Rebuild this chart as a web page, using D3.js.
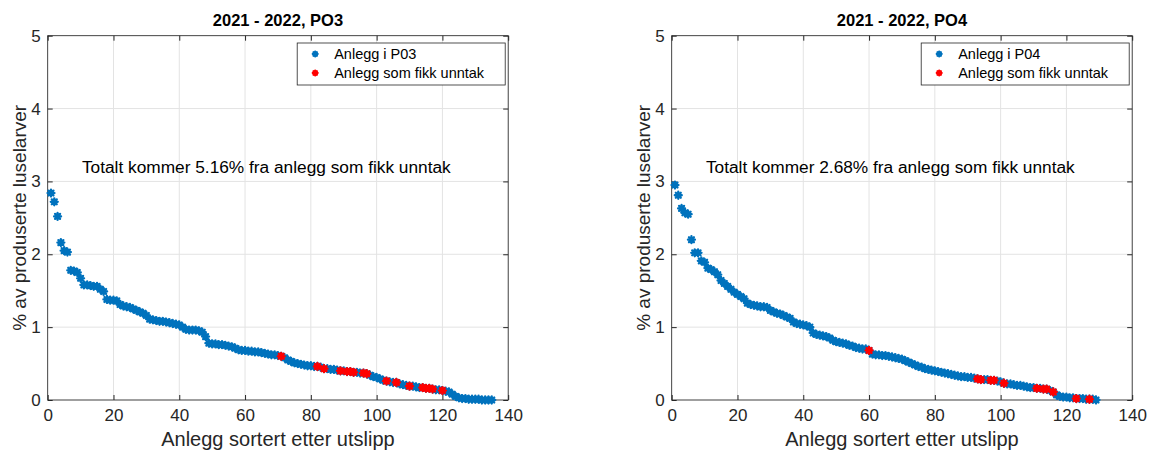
<!DOCTYPE html>
<html>
<head>
<meta charset="utf-8">
<script src="https://cdn.jsdelivr.net/npm/d3@7"></script>
<style>
  body { margin: 0; background: #fff; }
  text { font-family: "Liberation Sans", Arial, Helvetica, sans-serif; }
</style>
</head>
<body>
<div id="chart"></div>
<script>
// values, sorted high to low (% of produced lice larvae)
var po3Values = [
  2.84, 2.72, 2.52, 2.16, 2.05, 2.03, 1.78, 1.77, 1.75, 1.67,
  1.58, 1.58, 1.57, 1.56, 1.56, 1.52, 1.49, 1.38, 1.37, 1.37,
  1.36, 1.31, 1.29, 1.28, 1.27, 1.25, 1.23, 1.21, 1.19, 1.16,
  1.11, 1.10, 1.09, 1.08, 1.08, 1.07, 1.06, 1.05, 1.04, 1.03,
  1.00, 0.97, 0.96, 0.96, 0.96, 0.95, 0.93, 0.87, 0.78, 0.77,
  0.77, 0.76, 0.76, 0.75, 0.74, 0.73, 0.71, 0.69, 0.68, 0.68,
  0.67, 0.67, 0.66, 0.66, 0.65, 0.64, 0.63, 0.62, 0.62, 0.61,
  0.60, 0.58, 0.55, 0.53, 0.51, 0.50, 0.49, 0.48, 0.47, 0.47,
  0.46, 0.46, 0.45, 0.43, 0.43, 0.42, 0.42, 0.41, 0.40, 0.40,
  0.39, 0.39, 0.38, 0.38, 0.37, 0.37, 0.36, 0.34, 0.32, 0.31,
  0.29, 0.27, 0.26, 0.25, 0.24, 0.24, 0.22, 0.21, 0.20, 0.19,
  0.19, 0.18, 0.17, 0.17, 0.16, 0.16, 0.15, 0.14, 0.14, 0.13,
  0.12, 0.11, 0.08, 0.05, 0.03, 0.02, 0.02, 0.01, 0.01, 0.01,
  0.01, 0.00, 0.00, 0.00, 0.00
];
// rank (1-based) of the sites that got an exemption
var po3Exempt = [71, 82, 84, 89, 91, 92, 93, 96, 97, 103, 106, 110, 114, 115, 116, 117, 120];

var po4Values = [
  2.95, 2.81, 2.63, 2.57, 2.55, 2.20, 2.02, 2.02, 1.91, 1.89,
  1.81, 1.79, 1.76, 1.72, 1.64, 1.60, 1.56, 1.52, 1.48, 1.45,
  1.42, 1.39, 1.33, 1.31, 1.30, 1.29, 1.28, 1.28, 1.27, 1.23,
  1.21, 1.19, 1.18, 1.16, 1.14, 1.12, 1.07, 1.05, 1.04, 1.03,
  1.02, 1.00, 0.92, 0.90, 0.89, 0.88, 0.87, 0.85, 0.82, 0.80,
  0.79, 0.78, 0.77, 0.75, 0.74, 0.72, 0.71, 0.70, 0.70, 0.68,
  0.63, 0.62, 0.62, 0.61, 0.61, 0.60, 0.59, 0.58, 0.57, 0.56,
  0.54, 0.52, 0.50, 0.48, 0.46, 0.45, 0.43, 0.42, 0.41, 0.40,
  0.39, 0.38, 0.37, 0.36, 0.35, 0.34, 0.33, 0.32, 0.32, 0.31,
  0.31, 0.30, 0.29, 0.28, 0.28, 0.28, 0.27, 0.27, 0.26, 0.25,
  0.23, 0.22, 0.22, 0.21, 0.20, 0.20, 0.19, 0.18, 0.17, 0.17,
  0.16, 0.16, 0.15, 0.15, 0.13, 0.11, 0.07, 0.05, 0.04, 0.04,
  0.03, 0.03, 0.02, 0.02, 0.02, 0.01, 0.01, 0.01, 0.00
];
var po4Exempt = [60, 93, 94, 97, 98, 101, 111, 113, 114, 116, 123, 127];

var xTicks = [0, 20, 40, 60, 80, 100, 120, 140];
var yTicks = [0, 1, 2, 3, 4, 5];

var blue = "#0072BD";
var red = "#FF0000";
var axisColor = "#262626";

var svg = d3.select("#chart")
  .append("svg")
  .attr("width", 1149)
  .attr("height", 450);

// MATLAB '*' marker: plus and times drawn together
function star(g, cx, cy, r, color) {
  var d = r * 0.7071;
  var p = "M" + (cx - r) + "," + cy + "H" + (cx + r) +
    "M" + cx + "," + (cy - r) + "V" + (cy + r) +
    "M" + (cx - d) + "," + (cy - d) + "L" + (cx + d) + "," + (cy + d) +
    "M" + (cx - d) + "," + (cy + d) + "L" + (cx + d) + "," + (cy - d);
  g.append("path")
    .attr("d", p)
    .attr("stroke", color)
    .attr("stroke-width", 2.3)
    .attr("stroke-linecap", "round")
    .attr("fill", "none");
}

function drawPanel(opts) {
  var left = opts.left, right = opts.left + 460.5, top = 35.7, bottom = 400;
  var x = d3.scaleLinear().domain([0, 140]).range([left, right]);
  var y = d3.scaleLinear().domain([0, 5]).range([bottom, top]);
  var g = svg.append("g");

  // grid
  g.append("g").selectAll("line.gx")
    .data(xTicks).enter().append("line")
    .attr("x1", function (d) { return x(d); })
    .attr("x2", function (d) { return x(d); })
    .attr("y1", top).attr("y2", bottom)
    .attr("stroke", "#e3e3e3").attr("stroke-width", 1);
  g.append("g").selectAll("line.gy")
    .data(yTicks).enter().append("line")
    .attr("x1", left).attr("x2", right)
    .attr("y1", function (d) { return y(d); })
    .attr("y2", function (d) { return y(d); })
    .attr("stroke", "#e3e3e3").attr("stroke-width", 1);

  // axes (ticks pointing inward)
  var xAxis = d3.axisBottom(x).tickValues(xTicks).tickFormat(d3.format("d"))
    .tickSizeInner(-5).tickSizeOuter(0).tickPadding(9);
  var yAxis = d3.axisLeft(y).tickValues(yTicks).tickFormat(d3.format("d"))
    .tickSizeInner(-5).tickSizeOuter(0).tickPadding(7);
  var gx = g.append("g").attr("transform", "translate(0," + bottom + ")").call(xAxis);
  var gy = g.append("g").attr("transform", "translate(" + left + ",0)").call(yAxis);
  [gx, gy].forEach(function (a) {
    a.attr("font-size", null).attr("font-family", null);
    a.select(".domain").remove();
    a.selectAll("line").attr("stroke", axisColor);
    a.selectAll("text").attr("fill", axisColor).style("font-size", "17px");
  });
  // top / right ticks of the box
  g.append("g").attr("transform", "translate(0," + top + ")")
    .call(d3.axisTop(x).tickValues(xTicks).tickSizeInner(-5).tickSizeOuter(0).tickFormat(""))
    .call(function (s) { s.select(".domain").remove(); s.selectAll("line").attr("stroke", axisColor); });
  g.append("g").attr("transform", "translate(" + right + ",0)")
    .call(d3.axisRight(y).tickValues(yTicks).tickSizeInner(-5).tickSizeOuter(0).tickFormat(""))
    .call(function (s) { s.select(".domain").remove(); s.selectAll("line").attr("stroke", axisColor); });

  g.append("rect")
    .attr("x", left).attr("y", top)
    .attr("width", right - left).attr("height", bottom - top)
    .attr("fill", "none").attr("stroke", axisColor).attr("stroke-width", 0.8);

  // points
  var pts = g.append("g");
  opts.values.forEach(function (v, i) {
    star(pts, x(i + 1), y(v), 3.5, blue);
  });
  opts.exempt.forEach(function (rank) {
    star(pts, x(rank), y(opts.values[rank - 1]), 3.5, red);
  });

  // title and labels
  g.append("text")
    .attr("x", (left + right) / 2).attr("y", 26)
    .attr("text-anchor", "middle")
    .style("font-size", "16.5px").style("font-weight", "bold")
    .attr("fill", "#000")
    .text(opts.title);
  g.append("text")
    .attr("x", (left + right) / 2).attr("y", 446)
    .attr("text-anchor", "middle")
    .style("font-size", "20px")
    .attr("fill", axisColor)
    .text("Anlegg sortert etter utslipp");
  g.append("text")
    .attr("transform", "translate(" + (left - 22) + "," + ((top + bottom) / 2) + ")rotate(-90)")
    .attr("text-anchor", "middle")
    .style("font-size", "19px")
    .attr("fill", axisColor)
    .text("% av produserte luselarver");

  g.append("text")
    .attr("x", x(10.4)).attr("y", y(3.2))
    .attr("dy", "0.35em")
    .style("font-size", "17.3px")
    .attr("fill", "#000")
    .text(opts.note);

  // legend
  var lx = right - 211, ly = 43;
  var leg = g.append("g");
  leg.append("rect")
    .attr("x", lx).attr("y", ly).attr("width", 208).attr("height", 42)
    .attr("fill", "#fff").attr("stroke", axisColor).attr("stroke-width", 0.8);
  [[opts.legend, blue], ["Anlegg som fikk unntak", red]].forEach(function (e, k) {
    star(leg, lx + 18, ly + 11 + k * 19, 2.4, e[1]);
    leg.append("text")
      .attr("x", lx + 37).attr("y", ly + 11 + k * 19)
      .attr("dy", "0.35em")
      .style("font-size", "14.5px")
      .attr("fill", "#000")
      .text(e[0]);
  });
}

drawPanel({
  left: 47.7,
  title: "2021 - 2022, PO3",
  values: po3Values,
  exempt: po3Exempt,
  legend: "Anlegg i P03",
  note: "Totalt kommer 5.16% fra anlegg som fikk unntak"
});
drawPanel({
  left: 671.7,
  title: "2021 - 2022, PO4",
  values: po4Values,
  exempt: po4Exempt,
  legend: "Anlegg i P04",
  note: "Totalt kommer 2.68% fra anlegg som fikk unntak"
});
</script>
</body>
</html>
